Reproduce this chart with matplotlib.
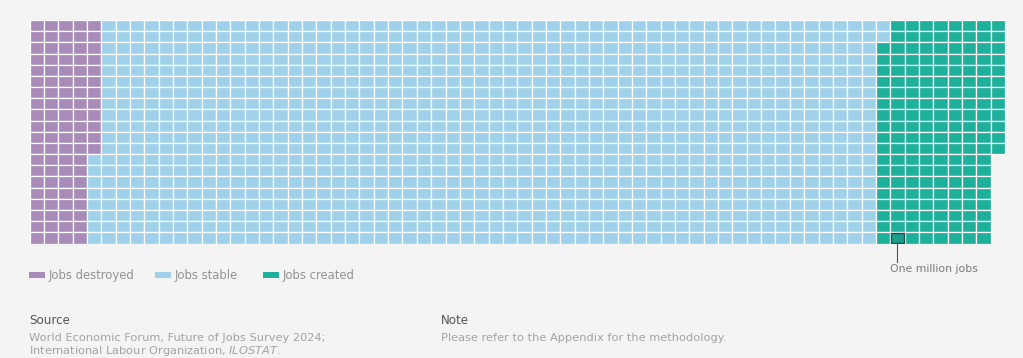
import numpy as np
import matplotlib
matplotlib.use("Agg")
import matplotlib.pyplot as plt
from matplotlib.patches import Rectangle

# jobs in millions, one cell = one million jobs
categories = ["Jobs destroyed", "Jobs stable", "Jobs created"]
jobs = [92, 1090, 170]
colours = ["#a88bb9", "#a0d1ea", "#1db09a"]
n_rows = 20
n_cols = int(np.ceil(sum(jobs) / n_rows))

W, H = 1023, 358
bg = "#f4f4f4"

plt.rcParams['font.family'] = ['DejaVu Sans']

fig = plt.figure(figsize=(W / 100, H / 100), dpi=100, facecolor=bg)


def fx(x):
    return x / W


def fy(y):
    return 1 - y / H


left, right, top, bottom = 29.5, 1005, 20, 243.5
ax = fig.add_axes([fx(left), fy(bottom), fx(right) - fx(left), fy(top) - fy(bottom)])
ax.set_facecolor(bg)
ax.set_xlim(0, n_cols)
ax.set_ylim(n_rows, 0)
ax.axis('off')

# fill column by column, top to bottom
idx = 0
for cat, n, col in zip(categories, jobs, colours):
    for k in range(n):
        c, r = divmod(idx, n_rows)
        ax.add_patch(Rectangle((c, r), 1, 1, facecolor=col,
                               edgecolor='white', linewidth=0.9))
        idx += 1

# scale marker: bottom cell of the second "created" column
mc = sum(jobs[:2]) // n_rows + 1
mr = n_rows - 1
ax.add_patch(Rectangle((mc + 0.05, mr + 0.05), 0.9, 0.9, facecolor='#1a9f8b',
                       edgecolor='#1f4f48', linewidth=1.0, zorder=3))
ax.plot([mc + 0.5, mc + 0.5], [n_rows, n_rows + 1.7], color='#555555',
        linewidth=0.8, clip_on=False)
ax.text(mc, n_rows + 2.3, "One million jobs", fontsize=7.8,
        color='#7a7a7a', ha='left', va='center', clip_on=False)

# legend
leg_x = [29, 155, 263]
for x0, cat, col in zip(leg_x, categories, colours):
    fig.add_artist(Rectangle((fx(x0), fy(278)), fx(16), 6 / H, facecolor=col,
                             edgecolor='none', transform=fig.transFigure))
    fig.text(fx(x0 + 20), fy(275), cat, fontsize=8.4, color='#939393',
             ha='left', va='center')

# source and note
fig.text(fx(29), fy(320), "Source", fontsize=8.6, color='#555555', va='center')
fig.text(fx(29), fy(338), "World Economic Forum, Future of Jobs Survey 2024;",
         fontsize=8.2, color='#a3a3a3', va='center')
fig.text(fx(29), fy(351), "International Labour Organization, $\\it{ILOSTAT}$.",
         fontsize=8.2, color='#a3a3a3', va='center')
fig.text(fx(441), fy(320), "Note", fontsize=8.6, color='#555555', va='center')
fig.text(fx(441), fy(338), "Please refer to the Appendix for the methodology.",
         fontsize=8.2, color='#a3a3a3', va='center')

plt.savefig('out.png', dpi=100, facecolor=bg)
